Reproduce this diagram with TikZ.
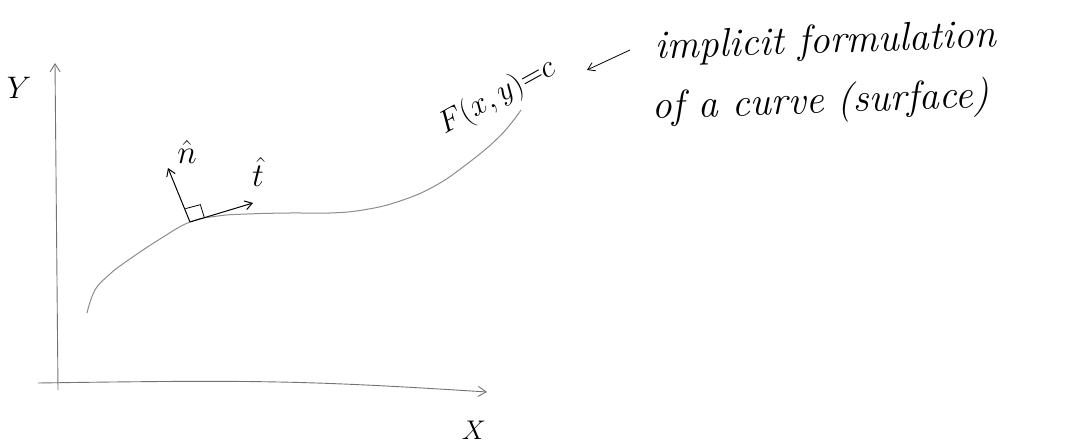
\documentclass[tikz,border=0pt]{standalone}
\usepackage{graphicx}
\usetikzlibrary{arrows.meta,calc}
\begin{document}
\begin{tikzpicture}[x=1pt,y=-1pt,
  axis/.style={draw=black!55,line width=0.9pt,-{Straight Barb[length=8pt,width=10pt]}},
  curveline/.style={draw=black!45,line width=1pt},
  vec/.style={draw=black,line width=1pt,-{Straight Barb[length=7pt,width=9pt]}},
  hand/.style={font=\itshape\fontsize{40}{46}\selectfont,inner sep=0pt,anchor=base},
  lab/.style={font=\fontsize{20}{24}\selectfont,inner sep=0pt}]
\useasboundingbox (0,0) rectangle (1071,446);
% axes
\coordinate (ybot) at (58,390);
\coordinate (ytop) at (55,63);
\coordinate (xleft) at (38,383);
\coordinate (xright) at (487,392);
\draw[axis] (ybot) -- (ytop);
\draw[axis] (xleft) .. controls (250,380) and (300,380) .. (xright);
\node[lab] (Y) at (19,88) {\scalebox{1.5}{$Y$}};
\node[lab] (X) at (474,430) {\scalebox{1.3}{$X$}};
% curve
\coordinate (c0) at (87,313);
\coordinate (cp) at (190,222);
\coordinate (c2) at (521,110);
\draw[curveline] plot[smooth,tension=0.7] coordinates {(c0) (95,290) (110,274) (127,261) (160,239) (cp) (218,216) (247,214) (290,213) (330,213) (363,210) (397,202) (433,187) (467,164) (500,136) (c2)};
% vectors
\coordinate (nend) at (168,168);
\coordinate (tend) at (253,203);
\draw[vec] (cp) -- (nend);
\draw[vec] (cp) -- (tend);
\draw[black,line width=0.8pt] ($(cp)!15pt!(tend)$) -- ++(-4,-13) -- ++(-15,4);
\node[lab] (n) at (187,152) {\scalebox{1.6}{$\hat{n}$}};
\node[lab] (t) at (258,172) {\scalebox{1.6}{$\hat{t}$}};
% label
\node[lab,rotate=29] (F) at (497,97) {\scalebox{1.5}{$F(x,y){=}c$}};
\coordinate (atail) at (630,50);
\coordinate (ahead) at (587,70);
\draw[vec,line width=0.8pt] (atail) -- (ahead);
\node[hand,rotate=2] (l1) at (826,53) {implicit formulation};
\node[hand,rotate=2] (l2) at (821,113) {of a curve (surface)};
\end{tikzpicture}
\end{document}
